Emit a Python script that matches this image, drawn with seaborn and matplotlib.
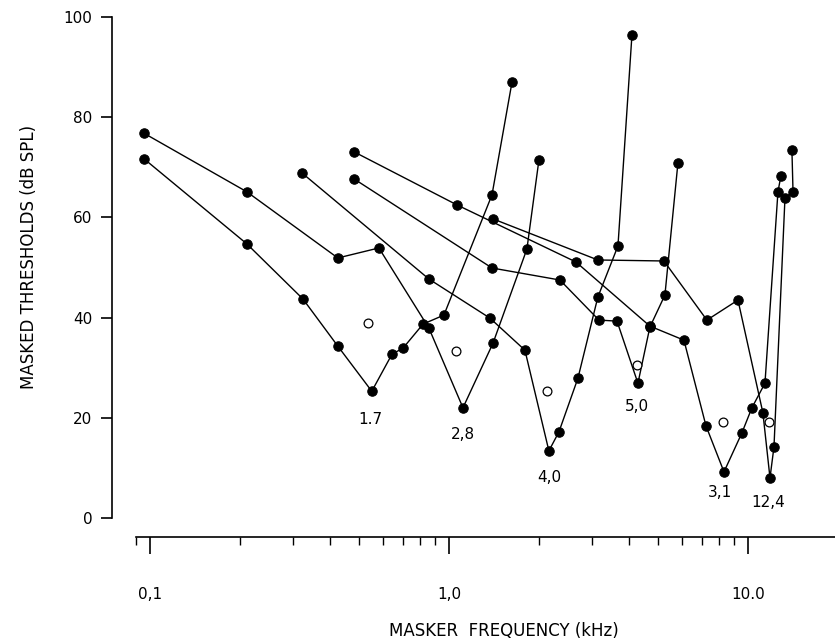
import matplotlib
matplotlib.use("Agg")
import matplotlib.pyplot as plt
import matplotlib.ticker as mticker
import numpy as np
import pandas as pd
import seaborn as sns

# ---- data ----
curve_names = ["1.7", "2,8", "4,0", "5,0", "3,1", "12,4"]

c17_freq = [0.0955, 0.211, 0.325, 0.425, 0.552, 0.645, 0.702, 0.819, 0.962, 1.393, 1.625]
c17_db = [71.7, 54.7, 43.7, 34.3, 25.3, 32.7, 33.9, 38.7, 40.5, 64.5, 87.0]

c28_freq = [0.0955, 0.211, 0.425, 0.583, 0.857, 1.114, 1.404, 1.823, 2.000]
c28_db = [76.8, 65.1, 51.9, 53.9, 37.9, 22.0, 34.9, 53.7, 71.5]

c40_freq = [0.322, 0.857, 1.371, 1.795, 2.159, 2.333, 2.700, 3.148, 3.675, 4.093]
c40_db = [68.9, 47.7, 39.9, 33.5, 13.4, 17.2, 27.9, 44.1, 54.3, 96.4]

c50_freq = [0.481, 1.393, 2.351, 3.175, 3.648, 4.286, 4.699, 5.276, 5.833]
c50_db = [67.7, 49.9, 47.5, 39.5, 39.3, 26.9, 38.1, 44.5, 70.9]

c31_freq = [0.481, 1.063, 2.659, 4.699, 6.108, 7.238, 8.315, 9.547, 10.31, 11.40, 12.60, 12.89]
c31_db = [73.1, 62.5, 51.1, 38.3, 35.5, 18.4, 9.2, 17.0, 22.0, 26.9, 65.1, 68.3]

c124_freq = [1.404, 3.148, 5.237, 7.29, 9.26, 11.22, 11.85, 12.22, 13.30, 14.15, 14.03]
c124_db = [59.7, 51.5, 51.3, 39.5, 43.5, 21.0, 8.0, 14.2, 63.9, 65.1, 73.5]

probe_freq = [0.536, 1.055, 2.127, 4.253, 8.25, 11.75]
probe_db = [38.9, 33.3, 25.3, 30.5, 19.2, 19.2]

label_freq = [0.544, 1.114, 2.159, 4.253, 8.06, 11.67]
label_db = [19.6, 16.6, 8.0, 22.2, 5.0, 3.0]

x_major = [0.1, 1.0, 10.0]
x_major_labels = ["0,1", "1,0", "10.0"]
x_minor = [0.09, 0.2, 0.3, 0.4, 0.5, 0.6, 0.7, 0.8, 0.9,
           2, 3, 4, 5, 6, 7, 8, 9]
y_ticks = [0, 20, 40, 60, 80, 100]

# ---- build long table ----
all_freq = [c17_freq, c28_freq, c40_freq, c50_freq, c31_freq, c124_freq]
all_db = [c17_db, c28_db, c40_db, c50_db, c31_db, c124_db]
frames = []
for name, f, d in zip(curve_names, all_freq, all_db):
    frames.append(pd.DataFrame({"curve": name, "freq": f, "db": d,
                                "order": np.arange(len(f))}))
df = pd.concat(frames, ignore_index=True)

sns.set_style("ticks")
plt.rcParams["font.family"] = ["DejaVu Sans"]
plt.rcParams["text.color"] = "black"
plt.rcParams["axes.labelcolor"] = "black"

fig = plt.figure(figsize=(8.35, 6.44), dpi=100)
ax = fig.add_axes([0.1632, 0.1661, 0.8364, 0.8075])

sns.lineplot(data=df, x="freq", y="db", units="curve", estimator=None,
             sort=False, color="black", linewidth=1.0, marker="o",
             markersize=6.8, markeredgecolor="black", markerfacecolor="black",
             legend=False, ax=ax)
sns.scatterplot(x=probe_freq, y=probe_db, s=40, facecolor="white",
                edgecolor="black", linewidth=0.9, zorder=5, ax=ax)

for t, fx, dy in zip(curve_names, label_freq, label_db):
    ax.text(fx, dy, t, ha="center", va="center", fontsize=11, color="black")

ax.set_xscale("log")
ax.set_xlim(0.09, 19.5)
ax.set_ylim(-3.8, 100)

ax.xaxis.set_major_locator(mticker.FixedLocator(x_major))
ax.xaxis.set_major_formatter(mticker.FixedFormatter(x_major_labels))
ax.xaxis.set_minor_locator(mticker.FixedLocator(x_minor))
ax.xaxis.set_minor_formatter(mticker.NullFormatter())
ax.set_yticks(y_ticks)
ax.set_yticklabels([str(v) for v in y_ticks])

for s in ["top", "right"]:
    ax.spines[s].set_visible(False)
ax.spines["left"].set_position(("outward", 17.5))
ax.spines["left"].set_bounds(0, 100)
ax.spines["left"].set_linewidth(1.2)
ax.spines["bottom"].set_linewidth(1.2)
ax.spines["left"].set_color("black")
ax.spines["bottom"].set_color("black")

ax.tick_params(axis="x", which="major", direction="out", length=12, width=1.2,
               pad=24, labelsize=11, colors="black")
ax.tick_params(axis="x", which="minor", direction="out", length=6, width=1.0,
               colors="black")
ax.tick_params(axis="y", which="major", direction="out", length=8, width=1.2,
               pad=6, labelsize=11, colors="black")

ax.set_xlabel("MASKER  FREQUENCY (kHz)", fontsize=12, va="center", color="black")
ax.xaxis.set_label_coords(0.5265, -0.181)
ax.set_ylabel("MASKED THRESHOLDS (dB SPL)", fontsize=12, va="center", color="black")
ax.yaxis.set_label_coords(-0.153, 0.538)

fig.savefig("out.png", dpi=100)
